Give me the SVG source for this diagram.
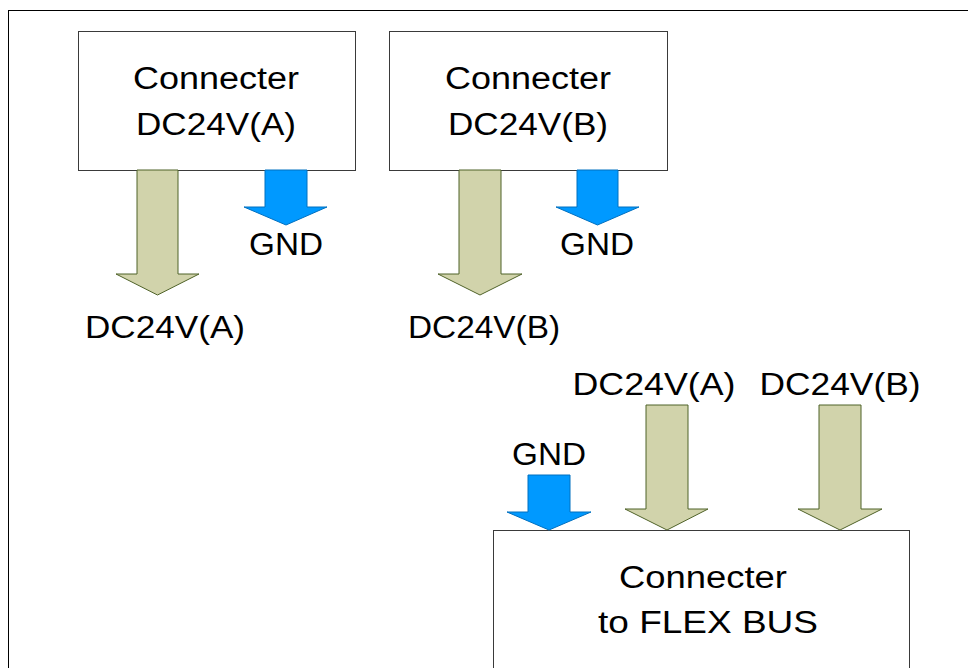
<svg xmlns="http://www.w3.org/2000/svg" width="968" height="668" viewBox="0 0 968 668">
<style>
.box{fill:#ffffff;stroke:#3a3a3a;stroke-width:1}
.t{font-family:"Liberation Sans",Arial,sans-serif;font-size:31px;fill:#000;text-anchor:middle}
.pw{fill:#D1D3AB;stroke:#4F6228;stroke-width:1}
.gnd{fill:#0099FF;stroke:#0070C0;stroke-width:1}
</style>
<rect x="0" y="0" width="968" height="668" fill="#ffffff"/>
<rect x="8.5" y="10.5" width="970" height="670" fill="none" stroke="#000" stroke-width="1"/>
<g id="connA">
<rect class="box" x="78.5" y="31.5" width="277" height="139"/>
<text class="t" x="216" y="89" textLength="166" lengthAdjust="spacingAndGlyphs">Connecter</text>
<text class="t" x="216" y="135" textLength="160" lengthAdjust="spacingAndGlyphs">DC24V(A)</text>
</g>
<g id="connB">
<rect class="box" x="389.5" y="31.5" width="278" height="139"/>
<text class="t" x="528" y="89" textLength="166" lengthAdjust="spacingAndGlyphs">Connecter</text>
<text class="t" x="528" y="135" textLength="160" lengthAdjust="spacingAndGlyphs">DC24V(B)</text>
</g>
<g id="connFlex">
<rect class="box" x="493.5" y="530.5" width="416" height="150"/>
<text class="t" x="703" y="588" textLength="168" lengthAdjust="spacingAndGlyphs">Connecter</text>
<text class="t" x="708" y="633" textLength="220" lengthAdjust="spacingAndGlyphs">to FLEX BUS</text>
</g>
<g id="connectors">
<path class="pw" d="M137,170 H178 V274 H199 L157.5,295 L116,274 H137 Z"/>
<path class="gnd" d="M265,170 H307 V207 H327 L286,225 L244,207 H265 Z"/>
<path class="pw" d="M459,170 H501 V274 H522 L480,295 L438,274 H459 Z"/>
<path class="gnd" d="M577,170 H618 V207 H639 L597.5,225 L556,207 H577 Z"/>
<path class="gnd" d="M528,475 H570 V512 H591 L549,530 L507,512 H528 Z"/>
<path class="pw" d="M646,405 H688 V509 H708 L667,530 L625,509 H646 Z"/>
<path class="pw" d="M819,405 H861 V509 H882 L840,530 L798,509 H819 Z"/>
</g>
<g id="labels">
<text class="t" x="286" y="255" textLength="74" lengthAdjust="spacingAndGlyphs">GND</text>
<text class="t" x="597" y="255" textLength="74" lengthAdjust="spacingAndGlyphs">GND</text>
<text class="t" x="549" y="465" textLength="74" lengthAdjust="spacingAndGlyphs">GND</text>
<text class="t" x="165" y="338" textLength="160" lengthAdjust="spacingAndGlyphs">DC24V(A)</text>
<text class="t" x="484" y="338" textLength="152" lengthAdjust="spacingAndGlyphs">DC24V(B)</text>
<text class="t" x="654" y="395" textLength="163" lengthAdjust="spacingAndGlyphs">DC24V(A)</text>
<text class="t" x="840" y="395" textLength="161" lengthAdjust="spacingAndGlyphs">DC24V(B)</text>
</g>
</svg>
